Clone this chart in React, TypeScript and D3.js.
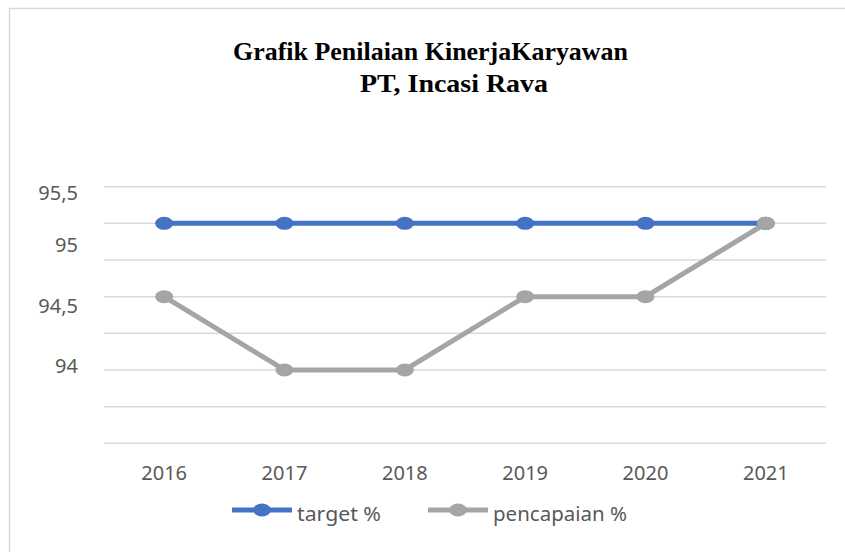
import React from "react";
import * as d3 from "d3";

const years = ["2016", "2017", "2018", "2019", "2020", "2021"];
const targetValues = [95, 95, 95, 95, 95, 95];
const pencapaianValues = [94.5, 94, 94, 94.5, 94.5, 95];
const gridValues = [93.5, 93.75, 94, 94.25, 94.5, 94.75, 95, 95.25];
const yTickLabels = ["95,5", "95", "94,5", "94"];
const yTickLabelAt = [95.211, 94.852, 94.438, 94.029];
const seriesNames = ["target %", "pencapaian %"];
const titleLines = ["Grafik Penilaian KinerjaKaryawan", "PT, Incasi Rava"];

const W = 845;
const H = 552;
const plotLeft = 104;
const plotRight = 826;
const blue = "#4472C4";
const gray = "#A5A5A5";
const axisFont = "'Noto Sans', 'Open Sans', sans-serif";
const titleFont = "'Palatino Linotype', 'Book Antiqua', 'Liberation Serif', serif";

export default function App() {
  const x = d3.scaleBand<string>().domain(years).range([plotLeft, plotRight]).padding(0);
  const cx = (yr: string) => (x(yr) as number) + x.bandwidth() / 2;
  const y = d3.scaleLinear().domain([93.5, 95.25]).range([443.3, 186.7]);

  const line = d3
    .line<number>()
    .x((_, i) => cx(years[i]))
    .y((v) => y(v));

  const series = [
    { name: seriesNames[0], values: targetValues, color: blue },
    { name: seriesNames[1], values: pencapaianValues, color: gray },
  ];

  const legend = [
    { name: seriesNames[0], color: blue, x0: 232, x1: 292, tx: 297, tl: 84 },
    { name: seriesNames[1], color: gray, x0: 428, x1: 488, tx: 493, tl: 134 },
  ];

  return (
    <svg
      width={W}
      height={H}
      style={{ position: "absolute", left: 0, top: 0, background: "#fff" }}
    >
      <rect x={0} y={0} width={W} height={H} fill="#fff" />
      {/* frame */}
      <path d={`M9.5,${H} V8.5 H${W}`} fill="none" stroke="#D9D9D9" strokeWidth={1.5} />

      {/* title */}
      <text
        x={430.5}
        y={60}
        textAnchor="middle"
        fontFamily={titleFont}
        fontWeight="bold"
        fontSize={25.5}
        fill="#000"
        textLength={395}
        lengthAdjust="spacingAndGlyphs"
      >
        {titleLines[0]}
      </text>
      <text
        x={454}
        y={92}
        textAnchor="middle"
        fontFamily={titleFont}
        fontWeight="bold"
        fontSize={25.5}
        fill="#000"
        textLength={188}
        lengthAdjust="spacingAndGlyphs"
      >
        {titleLines[1]}
      </text>

      {/* gridlines */}
      {gridValues.map((v) => (
        <line
          key={v}
          x1={plotLeft}
          x2={plotRight}
          y1={y(v)}
          y2={y(v)}
          stroke="#D9D9D9"
          strokeWidth={1.5}
        />
      ))}

      {/* y labels */}
      {yTickLabels.map((t, i) => (
        <text
          key={t}
          x={78}
          y={y(yTickLabelAt[i])}
          dy="0.36em"
          textAnchor="end"
          fontFamily={axisFont}
          fontSize={20}
          fill="#595959"
        >
          {t}
        </text>
      ))}

      {/* x labels */}
      {years.map((yr) => (
        <text
          key={yr}
          x={cx(yr)}
          y={480}
          textAnchor="middle"
          fontFamily={axisFont}
          fontSize={20}
          fill="#595959"
        >
          {yr}
        </text>
      ))}

      {/* series */}
      {series.map((s) => (
        <g key={s.name}>
          <path
            d={line(s.values) || ""}
            fill="none"
            stroke={s.color}
            strokeWidth={5}
            strokeLinejoin="round"
          />
          {s.values.map((v, i) => (
            <ellipse
              key={i}
              cx={cx(years[i])}
              cy={y(v)}
              rx={9}
              ry={6.5}
              fill={s.color}
            />
          ))}
        </g>
      ))}

      {/* legend */}
      {legend.map((l) => (
        <g key={l.name}>
          <line x1={l.x0} x2={l.x1} y1={510} y2={510} stroke={l.color} strokeWidth={5} />
          <ellipse cx={(l.x0 + l.x1) / 2} cy={510} rx={9} ry={6.5} fill={l.color} />
          <text
            x={l.tx}
            y={521}
            fontFamily={axisFont}
            fontSize={20}
            fill="#595959"
            textLength={l.tl}
            lengthAdjust="spacingAndGlyphs"
          >
            {l.name}
          </text>
        </g>
      ))}
    </svg>
  );
}
